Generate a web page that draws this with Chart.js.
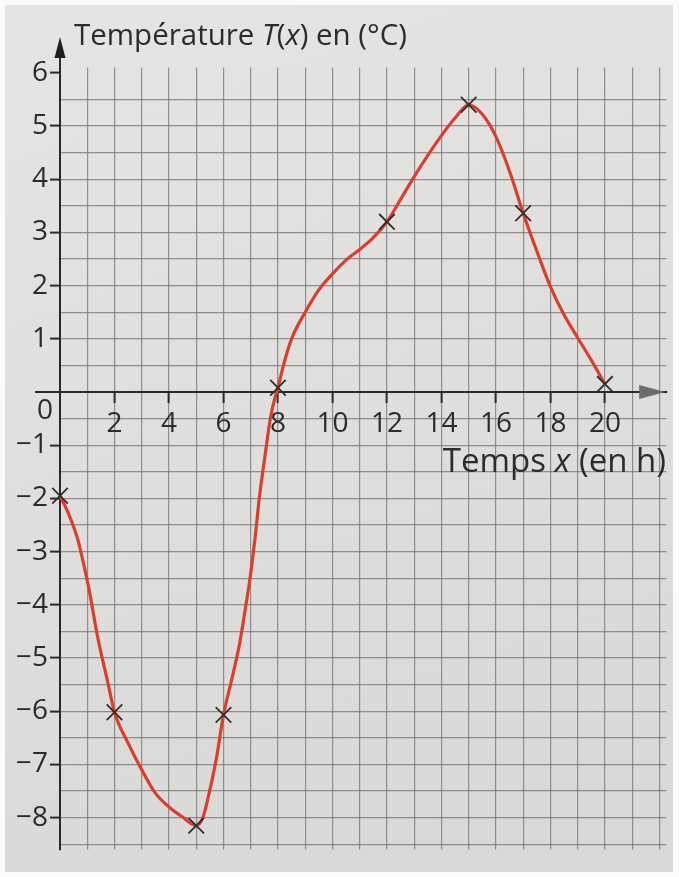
<!DOCTYPE html>
<html><head><meta charset="utf-8">
<script src="https://cdn.jsdelivr.net/npm/chart.js@4.4.1/dist/chart.umd.min.js"></script>
<style>html,body{margin:0;padding:0;background:#fff}#wrap{width:679px;height:877px;position:relative}</style>
</head><body><div id="wrap"><canvas id="c" width="679" height="877"></canvas></div>
<script>
// Curve (hours, °C)
const curveX = [0,0.3,0.63,0.75,1.07,1.38,1.76,2,2.5,3,3.5,4,4.5,5,5.25,5.5,5.75,6,6.3,6.57,6.78,6.98,7.18,7.32,7.52,7.73,7.9,8,8.2,8.5,9,9.5,10,10.5,11,11.5,12,12.5,13,13.5,14,14.5,15,15.5,16,16.5,17,17.5,18,18.5,19,19.5,20];
const curveT = [-1.95,-2.27,-2.73,-2.97,-3.72,-4.6,-5.47,-6.02,-6.6,-7.1,-7.54,-7.8,-7.99,-8.15,-7.99,-7.48,-6.86,-6.07,-5.41,-4.79,-4.15,-3.48,-2.65,-1.97,-1.22,-0.47,-0.09,0.08,0.5,1.0,1.5,1.92,2.22,2.48,2.68,2.9,3.2,3.62,4.05,4.45,4.82,5.15,5.4,5.22,4.8,4.15,3.36,2.65,1.98,1.45,1.02,0.6,0.15];
// Marked points (crosses)
const markX = [0,2,5,6,8,12,15,17,20];
const markT = [-1.95,-6.02,-8.15,-6.07,0.08,3.2,5.4,3.36,0.15];
// Tick labels
const xTickLabels = [2,4,6,8,10,12,14,16,18,20];
const yTickLabels = [-8,-7,-6,-5,-4,-3,-2,-1,1,2,3,4,5,6];

const FONT = "'Open Sans', 'Noto Sans', sans-serif";
const TXT = '#2c2c2c';
const GRID = 'rgba(115,115,115,0.75)';

const decor = {
  id: 'decor',
  beforeDraw(chart) {
    const c = chart.ctx;
    c.save();
    c.fillStyle = '#fbfbfb';
    c.fillRect(0, 0, chart.width, chart.height);
    const g = c.createLinearGradient(0, 0, 300, chart.height);
    g.addColorStop(0, '#e7e5e4');
    g.addColorStop(1, '#dbd8d8');
    c.fillStyle = g;
    c.fillRect(5, 5, chart.width - 11, chart.height - 10);
    c.restore();
  },
  afterDraw(chart) {
    const c = chart.ctx, xs = chart.scales.x, ys = chart.scales.y;
    const x0 = xs.getPixelForValue(0), y0 = ys.getPixelForValue(0);
    const top = chart.chartArea.top, right = chart.chartArea.right;
    c.save();
    c.strokeStyle = '#2a2a2a'; c.lineWidth = 2;
    c.beginPath(); c.moveTo(x0, top); c.lineTo(x0, 50); c.stroke();
    c.beginPath(); c.moveTo(35, y0); c.lineTo(x0, y0); c.stroke();
    // y arrow
    c.fillStyle = '#1e1e1e';
    c.beginPath(); c.moveTo(x0, 37); c.lineTo(x0 - 5.5, 58); c.lineTo(x0 + 5.5, 58); c.closePath(); c.fill();
    // x arrow
    c.fillStyle = '#6b6b6b';
    c.beginPath(); c.moveTo(right - 1, y0); c.lineTo(right - 27, y0 - 7); c.lineTo(right - 27, y0 + 7); c.closePath(); c.fill();
    // origin label
    c.fillStyle = TXT; c.font = '28px ' + FONT; c.textAlign = 'center'; c.textBaseline = 'middle';
    c.fillText('0', x0 - 15, y0 + 19);
    // titles with italic parts
    function runs(parts, x, y, align, size) {
      let w = 0;
      parts.forEach(p => { c.font = (p[1] ? 'italic ' : '') + size + 'px ' + FONT; w += c.measureText(p[0]).width; });
      let cx = align === 'right' ? x - w : x;
      c.textAlign = 'left'; c.textBaseline = 'alphabetic';
      parts.forEach(p => { c.font = (p[1] ? 'italic ' : '') + size + 'px ' + FONT; c.fillText(p[0], cx, y); cx += c.measureText(p[0]).width; });
    }
    runs([['Température ', 0], ['T', 1], ['(', 0], ['x', 1], [') en (°C)', 0]], x0 + 14, 45, 'left', 29.5);
    runs([['Temps ', 0], ['x', 1], [' (en h)', 0]], 666, 472, 'right', 33);
    c.restore();
  }
};

new Chart(document.getElementById('c'), {
  type: 'scatter',
  data: {
    datasets: [
      {
        data: markX.map((x, i) => ({x, y: markT[i]})),
        showLine: false, pointStyle: 'crossRot', pointRadius: 11, pointBorderWidth: 1.8,
        pointBorderColor: '#2e2e2e', pointBackgroundColor: '#2e2e2e', clip: false
      },
      {
        data: curveX.map((x, i) => ({x, y: curveT[i]})),
        showLine: true, borderColor: '#d8402e', borderWidth: 3.2, pointRadius: 0,
        cubicInterpolationMode: 'monotone', fill: false, clip: false
      }
    ]
  },
  options: {
    responsive: false, animation: false, devicePixelRatio: 1,
    layout: { padding: { left: 0, top: 67.5, right: 11.6, bottom: 27.5 } },
    plugins: { legend: { display: false }, tooltip: { enabled: false } },
    scales: {
      x: {
        type: 'linear', min: 0, max: 22.25, position: { y: 0 },
        ticks: {
          stepSize: 1, includeBounds: false, autoSkip: false, maxRotation: 0, padding: 5,
          color: TXT, font: { family: FONT, size: 28 },
          callback: v => xTickLabels.includes(v) ? String(v) : ''
        },
        grid: {
          color: GRID, lineWidth: 1.2, tickLength: 10, tickWidth: 2,
          tickColor: ctx => (ctx.tick && xTickLabels.includes(ctx.tick.value)) ? '#2a2a2a' : 'rgba(0,0,0,0)'
        },
        border: { display: true, color: '#2a2a2a', width: 2 }
      },
      y: {
        type: 'linear', min: -8.6, max: 6.1, position: 'left',
        afterFit: s => { s.width = 60; },
        ticks: {
          stepSize: 0.5, includeBounds: false, autoSkip: false, padding: 2,
          color: TXT, font: { family: FONT, size: 28 },
          callback: v => yTickLabels.includes(v) ? (v < 0 ? '\u2212' + Math.abs(v) : String(v)) : ''
        },
        grid: {
          lineWidth: 1.2, tickLength: 10, tickWidth: 2,
          color: ctx => (ctx.tick && ctx.tick.value > 5.9) ? 'rgba(0,0,0,0)' : GRID,
          tickColor: ctx => (ctx.tick && yTickLabels.includes(ctx.tick.value)) ? '#2a2a2a' : 'rgba(0,0,0,0)'
        },
        border: { display: true, color: '#2a2a2a', width: 2 }
      }
    }
  },
  plugins: [decor]
});
</script>
</body></html>
